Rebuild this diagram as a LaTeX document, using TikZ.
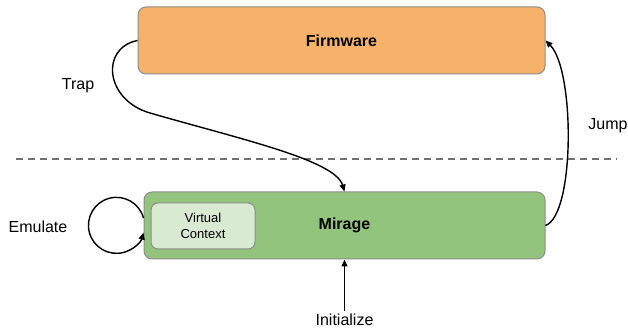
\documentclass[tikz,border=0pt]{standalone}
\usepackage{fontspec}
\setmainfont{Liberation Sans}
\usetikzlibrary{arrows.meta}
\definecolor{fwfill}{HTML}{F6B26B}
\definecolor{mgfill}{HTML}{93C47D}
\definecolor{vcfill}{HTML}{D9EAD3}
\definecolor{boxline}{HTML}{8C8C8C}
\definecolor{sepline}{HTML}{707070}
\tikzset{
  block/.style={draw=boxline, line width=1pt, rounded corners=8pt, inner sep=0pt,
    font=\fontsize{16}{18}\selectfont\bfseries},
  inner/.style={draw=boxline, line width=1pt, rounded corners=7pt, fill=vcfill, inner sep=0pt,
    align=center, font=\fontsize{13}{15.5}\selectfont},
  lbl/.style={font=\fontsize{16}{18}\selectfont, inner sep=0pt},
  flow/.style={line width=1.4pt, -{Triangle[length=7pt,width=6pt]}}
}
\begin{document}
\begin{tikzpicture}[x=1pt,y=1pt]
  \useasboundingbox (0,0) rectangle (628,331);

  % upper and lower blocks
  \node[block, fill=fwfill, minimum width=407pt, minimum height=67pt] (fw) at (341.5,290.5) {Firmware};
  \node[block, fill=mgfill, minimum width=401pt, minimum height=67pt] (mg) at (344.5,105.5) {Mirage};
  \node[inner, minimum width=104pt, minimum height=46pt] (vc) at (203,105) {Virtual\\Context};

  % separator between the two levels
  \coordinate (sepL) at (16,172);
  \coordinate (sepR) at (617,172);
  \draw[sepline, line width=1.3pt, dash pattern=on 7pt off 5pt] (sepL) -- (sepR);

  % labels
  \node[lbl] (trap) at (78,245) {Trap};
  \node[lbl] (jump) at (608,205) {Jump};
  \node[lbl] (emu) at (38,104) {Emulate};
  \node[lbl, anchor=center, inner sep=3pt] (init) at (344.5,11) {Initialize};

  % connectors
  \draw[flow] (fw.west) .. controls (100,283) and (105,231) .. (150,218)
                        .. controls (240,192) and (335,171) .. (mg.north);
  \draw[flow] (mg.east) .. controls (575,116) and (575,261) .. (fw.east);
  \draw[flow] ([yshift=7.4pt]mg.west) arc[start angle=15, end angle=345, radius=28];
  \draw[flow] (init.north) -- (mg.south);
\end{tikzpicture}
\end{document}
